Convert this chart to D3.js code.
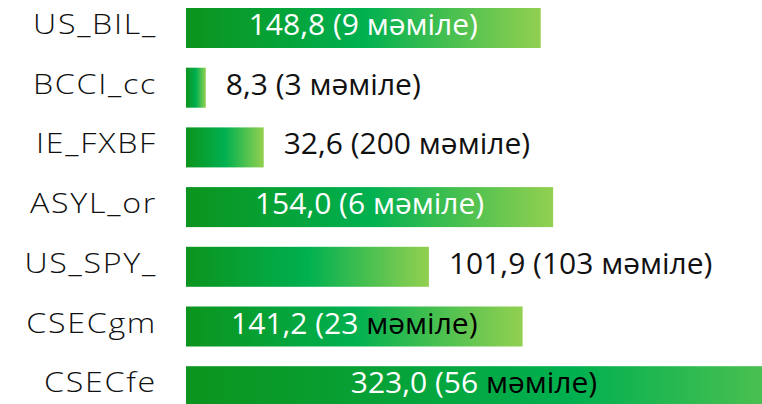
<!DOCTYPE html>
<meta charset="utf-8">
<style>
body { margin: 0; background: #fff; overflow: hidden; }
svg { display: block; }
</style>
<svg></svg>
<script src="https://d3js.org/d3.v7.min.js"></script>
<script>
var width = 762
var height = 404

// data
var names = ["US_BIL_", "BCCI_cc", "IE_FXBF", "ASYL_or", "US_SPY_", "CSECgm", "CSECfe"]
var volumes = [148.8, 8.3, 32.6, 154.0, 101.9, 141.2, 323.0]
var deals = [9, 3, 200, 6, 103, 23, 56]
var word = "мәміле"

var rows = names.map(function (n, i) {
  return { name: n, value: volumes[i], deals: deals[i] }
})

var svg = d3.select('svg')
  .attr('width', width)
  .attr('height', height)

// the widest bar runs past the right edge, as in the picture
var x = d3.scaleLinear().domain([0, 323]).range([186, 956])
var y = d3.scaleBand()
  .domain(names)
  .range([-1.85, -1.85 + 7 * 59.7])
  .paddingInner(0.33)
  .paddingOuter(0.165)

var defs = svg.append('defs')
var grad = defs.append('linearGradient')
  .attr('id', 'barGrad')
  .attr('x1', '0%').attr('x2', '100%')
  .attr('y1', '0%').attr('y2', '0%')
grad.append('stop').attr('offset', '0%').attr('stop-color', '#0c941d')
grad.append('stop').attr('offset', '50%').attr('stop-color', '#00b050')
grad.append('stop').attr('offset', '100%').attr('stop-color', '#92d050')

var fmt = function (v) { return d3.format('.1f')(v).replace('.', ',') }
var font = '"Open Sans", "Noto Sans", sans-serif'

// category labels (the original face is wide, so stretch a little)
svg.append('g').selectAll('text')
  .data(rows)
  .enter().append('text')
  .attr('transform', function (d) {
    return 'translate(157,' + (y(d.name) + y.bandwidth() / 2 + 6) + ') scale(1.15,1)'
  })
  .attr('text-anchor', 'end')
  .attr('font-family', font)
  .attr('font-weight', 300)
  .attr('font-size', 28)
  .attr('letter-spacing', 1.5)
  .attr('fill', '#111')
  .text(function (d) { return d.name })

// bars
svg.append('g').selectAll('rect')
  .data(rows)
  .enter().append('rect')
  .attr('x', x(0))
  .attr('y', function (d) { return y(d.name) })
  .attr('width', function (d) { return x(d.value) - x(0) })
  .attr('height', y.bandwidth())
  .attr('fill', 'url(#barGrad)')

// value labels: inside the bar when it is long enough
var labels = svg.append('g').selectAll('text')
  .data(rows)
  .enter().append('text')
  .attr('font-family', font)
  .attr('font-size', 30)
  .attr('y', function (d) { return y(d.name) + y.bandwidth() / 2 + 7 })

labels.each(function (d) {
  var t = d3.select(this)
  var inside = d.value > 120
  var head = t.append('tspan').text(fmt(d.value) + ' (' + d.deals + ' ')
  var tail = t.append('tspan').text(word + ')')
  if (inside) {
    var right = Math.min(x(d.value), width)
    t.attr('text-anchor', 'middle').attr('x', (x(0) + right) / 2)
    head.attr('fill', '#fff')
    tail.attr('fill', d.deals >= 10 ? '#000' : '#fff')
  } else {
    t.attr('text-anchor', 'start').attr('x', x(d.value) + 20).attr('fill', '#111')
  }
})
</script>
